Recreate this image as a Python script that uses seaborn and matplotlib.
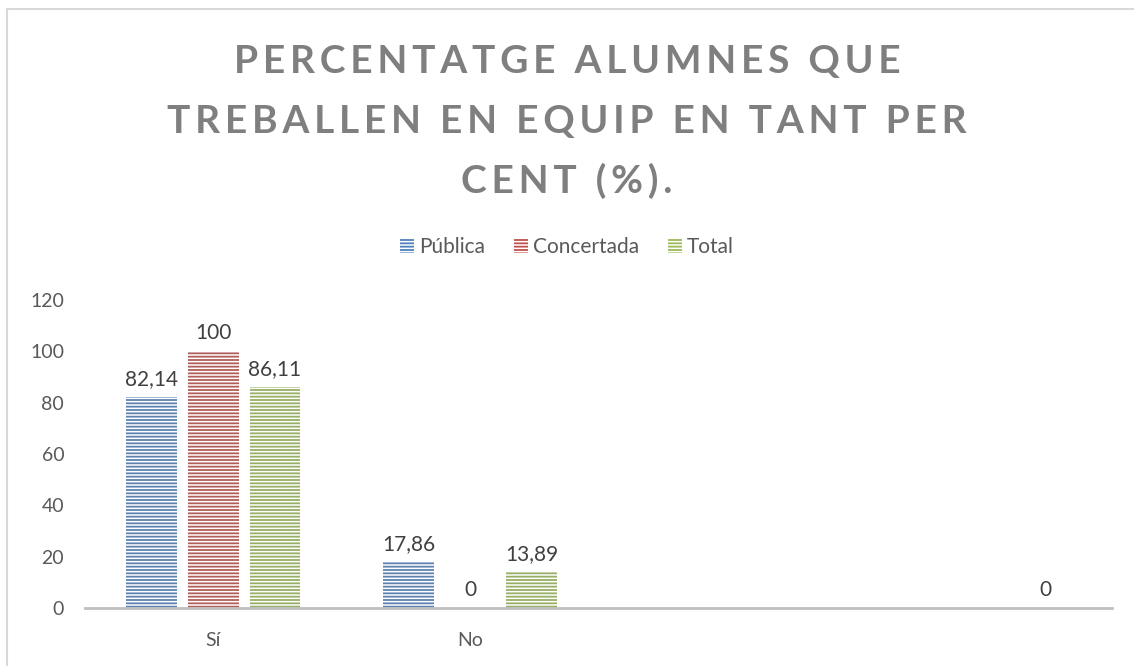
import numpy as np
import pandas as pd
import matplotlib
matplotlib.use("Agg")
import matplotlib.pyplot as plt
from matplotlib.patches import Patch
from matplotlib.lines import Line2D
import seaborn as sns

# ---- data ----
categories = ["Sí", "No", "", " "]
series_names = ["Pública", "Concertada", "Total"]
publica = [82.14, 17.86, np.nan, np.nan]
concertada = [100, 0, np.nan, np.nan]
total = [86.11, 13.89, np.nan, 0]
yticks = [0, 20, 40, 60, 80, 100, 120]
title_lines = ["PERCENTATGE ALUMNES QUE", "TREBALLEN EN EQUIP EN TANT PER", "CENT (%)."]
colors = ["#4F81BD", "#C0504D", "#9BBB59"]

df = pd.DataFrame({
    "cat": categories * 3,
    "serie": sum([[s] * len(categories) for s in series_names], []),
    "val": publica + concertada + total,
})

sns.set_theme(style="white")
plt.rcParams["font.family"] = ["Lato", "DejaVu Sans"]
plt.rcParams["hatch.linewidth"] = 1.1

fig = plt.figure(figsize=(11.34, 6.66), dpi=100)
ax = fig.add_axes([85 / 1134, 58 / 666, 1027 / 1134, 308 / 666])

sns.barplot(data=df, x="cat", y="val", hue="serie", order=categories,
            hue_order=series_names, palette=colors, width=0.72, gap=0.18,
            errorbar=None, legend=False, ax=ax, linewidth=0,
            edgecolor="white", hatch="-----")

def fmt(v):
    if float(v).is_integer():
        return str(int(v))
    return f"{v:.2f}".replace(".", ",")

for cont in ax.containers:
    ax.bar_label(cont, labels=[fmt(v) for v in cont.datavalues], padding=6,
                 fontsize=15, color="#404040")

ax.set_ylim(0, 120)
ax.set_xlim(-0.5, len(categories) - 0.5)
ax.set_yticks(yticks)
ax.set_yticklabels([str(t) for t in yticks])
ax.set_xlabel("")
ax.set_ylabel("")
ax.tick_params(axis="both", length=0, labelsize=14, labelcolor="#595959")
ax.tick_params(axis="y", pad=15)
ax.tick_params(axis="x", pad=17)
for s in ["top", "right", "left"]:
    ax.spines[s].set_visible(False)
ax.spines["bottom"].set_color("#BFBFBF")
ax.spines["bottom"].set_linewidth(2)
ax.grid(False)

handles = [Patch(facecolor=c, edgecolor="white", hatch="-----", linewidth=0)
           for c in colors]
fig.legend(handles, series_names, loc="center", bbox_to_anchor=(0.5, 1 - 247 / 666),
           ncol=3, frameon=False, fontsize=15, labelcolor="#595959",
           handlelength=0.65, handleheight=0.65, handletextpad=0.25, columnspacing=1.4)

sp = "\u200a\u200a"
for i, line in enumerate(title_lines):
    spaced = sp.join(line)
    fig.text(0.5, 1 - (61 + 60 * i) / 666, spaced, ha="center", va="center",
             fontsize=28, fontweight="bold", color="#7F7F7F")

# chart frame
fig.add_artist(Line2D([7 / 1134, 1], [1 - 9 / 666] * 2, color="#D9D9D9", lw=1.5))
fig.add_artist(Line2D([7 / 1134] * 2, [0, 1 - 9 / 666], color="#D9D9D9", lw=1.5))

fig.savefig("out.png", dpi=100)
